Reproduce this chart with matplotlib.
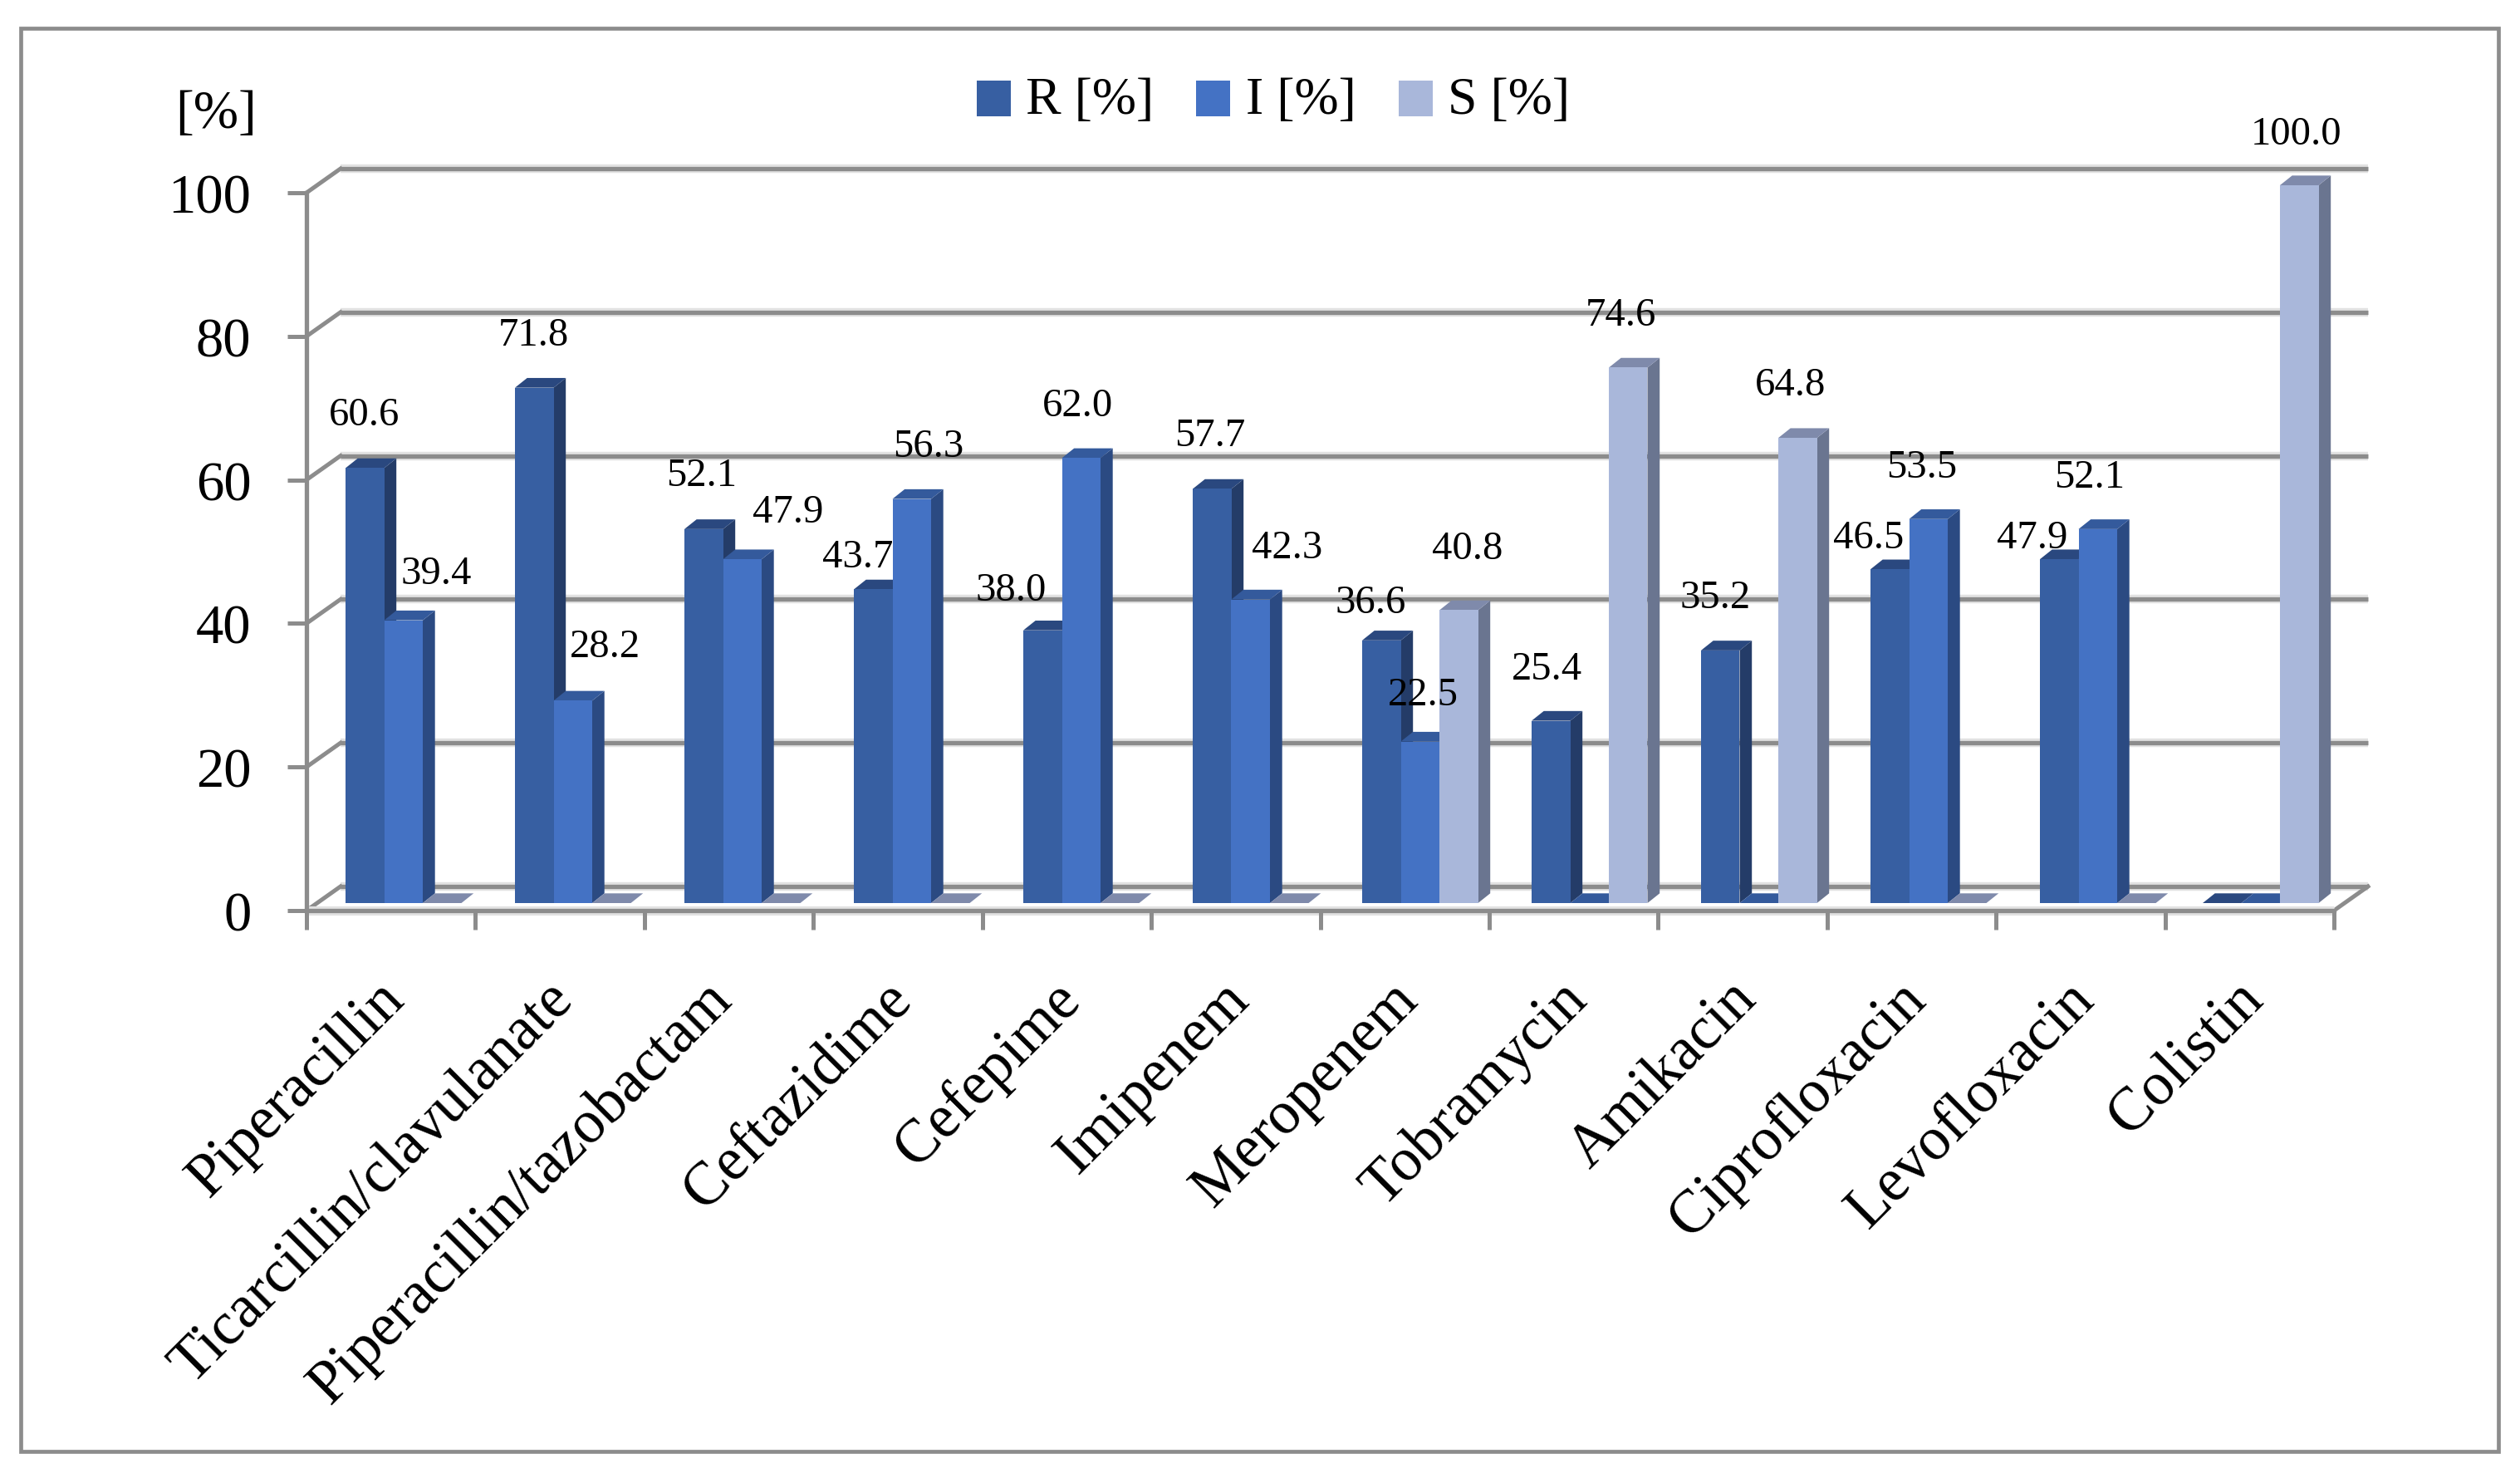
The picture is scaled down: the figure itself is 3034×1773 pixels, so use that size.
import matplotlib
matplotlib.use("Agg")
import numpy as np
import matplotlib.pyplot as plt
from matplotlib.patches import Rectangle

plt.rcParams['font.family'] = ['Liberation Serif', 'DejaVu Serif']

# Data
drugs = ["Piperacillin", "Ticarcillin/clavulanate", "Piperacillin/tazobactam",
         "Ceftazidime", "Cefepime", "Imipenem", "Meropenem", "Tobramycin",
         "Amikacin", "Ciprofloxacin", "Levofloxacin", "Colistin"]
r_vals = [60.6, 71.8, 52.1, 43.7, 38.0, 57.7, 36.6, 25.4, 35.2, 46.5, 47.9, 0]
i_vals = [39.4, 28.2, 47.9, 56.3, 62.0, 42.3, 22.5, 0, 0, 53.5, 52.1, 0]
s_vals = [0, 0, 0, 0, 0, 0, 40.8, 74.6, 64.8, 0, 0, 100.0]
y_ticks = [0, 20, 40, 60, 80, 100]

# Hand placed data labels in the original: nudge from bar top, in pixels
r_nudge = [(-1, 64), (-1, 64), (-3, 65), (-19, 39), (-38, 49), (-3, 64),
           (-13, 46), (-5, 63), (-6, 64), (-26, 38), (-33, 26), (0, 0)]
i_nudge = [(39, 57), (39, 65), (55, 57), (20, 64), (-4, 63), (44, 63),
           (4, 57), (0, 0), (0, 0), (-8, 63), (-10, 63), (0, 0)]
s_nudge = [(0, 0), (0, 0), (0, 0), (0, 0), (0, 0), (0, 0),
           (10, 74), (-9, 63), (-9, 64), (0, 0), (0, 0), (-4, 62)]
# the long third category label sits further left
label_shift = [18, 18, 31, 18, 18, 18, 18, 18, 18, 18, 18, 18]

W, H = 3034, 1774
fig = plt.figure(figsize=(W / 100, H / 100), dpi=100)
fig.patch.set_facecolor("white")

# Outer frame
GREY = "#8c8c8c"
PALE = "#e2e2e2"
fig.add_artist(Rectangle((25 / W, 1 - 1748 / H), (3008 - 25) / W, (1748 - 35) / H,
                         transform=fig.transFigure, fill=False, edgecolor=GREY, lw=3.4))

ax = fig.add_axes([369 / W, 1 - 1097 / H, (2810 - 369) / W, (1097 - 233) / H])
ax.set_xlim(0, 12)
ax.set_ylim(0, 100)
ax.patch.set_alpha(0)

# pixel sizes turned into data units
px_x = 12 / (2810 - 369)
px_y = 100 / (1097 - 233)

# back wall gridlines
wall_dx = 41 * px_x
wall_dy = 29 * px_y
for v in y_ticks:
    ax.plot([wall_dx, 12 + wall_dx], [v + wall_dy] * 2, color=PALE, lw=7.5,
            zorder=1, clip_on=False, solid_capstyle="butt")
    ax.plot([wall_dx, 12 + wall_dx], [v + wall_dy] * 2, color=GREY, lw=3.8,
            zorder=1.2, clip_on=False, solid_capstyle="butt")
    ax.plot([0, wall_dx], [v, v + wall_dy], color=GREY, lw=3.6, zorder=1.2, clip_on=False)
ax.plot([12, 12 + wall_dx], [0, wall_dy], color=GREY, lw=3.6, zorder=1.2, clip_on=False)
ax.plot([0, 12], [0, 0], color=PALE, lw=8, zorder=1.5, clip_on=False, solid_capstyle="butt")

# bars, the groups step a touch wider than the ticks in the original
x = np.arange(len(drugs)) + 0.5
group_x = (116.75 + 204.0 * np.arange(len(drugs))) * px_x
group_x[-1] -= 8 * px_x  # last group sits a bit closer in the original
bar_w = 46.5 * px_x
lift_y = 9 * px_y
depth_x = 14.7 * px_x
depth_y = 11.7 * px_y

series = [
    ("R [%]", r_vals, r_nudge, -1, "#375fa2", "#243c68", "#2a487f"),
    ("I [%]", i_vals, i_nudge, 0, "#4472c4", "#2b4a82", "#345a9c"),
    ("S [%]", s_vals, s_nudge, 1, "#a9b7da", "#6a7590", "#7f8aab"),
]

handles = []
for n, (name, vals, nudges, pos, front, side, top) in enumerate(series):
    zo = 3 + n
    xs = group_x + pos * bar_w
    bars = ax.bar(xs, vals, width=bar_w, bottom=lift_y, color=front, label=name,
                  zorder=zo + 0.2, clip_on=False, linewidth=0)
    handles.append(bars)
    for xc, v, (dx, dy) in zip(xs, vals, nudges):
        x0 = xc - bar_w / 2
        x1 = xc + bar_w / 2
        y0 = lift_y
        y1 = v + lift_y
        # side face
        if v > 0:
            ax.fill([x1, x1 + depth_x, x1 + depth_x, x1],
                    [y0, y0 + depth_y, y1 + depth_y, y1],
                    color=side, lw=0, zorder=zo, clip_on=False)
        # top face
        ax.fill([x0, x0 + depth_x, x1 + depth_x, x1],
                [y1, y1 + depth_y, y1 + depth_y, y1],
                color=top, lw=0, zorder=zo + 0.1, clip_on=False)
        if v > 0:
            ax.annotate(f"{v:.1f}", (xc, y1), xytext=(dx, dy), textcoords="offset pixels",
                        ha="center", va="center", fontsize=35, color="black", zorder=10,
                        annotation_clip=False)

# axes and ticks
for s in ["top", "right"]:
    ax.spines[s].set_visible(False)
for s in ["left", "bottom"]:
    ax.spines[s].set_color(GREY)
    ax.spines[s].set_linewidth(3.8)
    ax.spines[s].set_zorder(2)

ax.set_yticks(y_ticks)
ax.tick_params(axis="y", length=16.5, width=3.6, color=GREY, labelsize=48, pad=31.5)
ax.set_xticks(np.arange(13))
ax.set_xticklabels([])
ax.tick_params(axis="x", which="major", length=16.5, width=3.6, color=GREY)
ax.set_xticks(x - np.array(label_shift) * px_x, minor=True)
ax.set_xticklabels(drugs, minor=True, rotation=45, ha="right", va="top",
                   rotation_mode="anchor", fontsize=52.5)
ax.tick_params(axis="x", which="minor", length=0, pad=52)

fig.text(260 / W, 1 - 138 / H, "[%]", fontsize=47, ha="center", va="center")

leg = ax.legend(handles=handles, loc="center", bbox_to_anchor=(1533 / W, 1 - 122 / H),
                bbox_transform=fig.transFigure, ncol=3, frameon=False, fontsize=46,
                handlelength=0.64, handleheight=0.64, handletextpad=0.29, columnspacing=0.8)
for h in leg.legend_handles:
    h.set_y(h.get_y() - 3.6)

fig.savefig("out.png", dpi=100)
